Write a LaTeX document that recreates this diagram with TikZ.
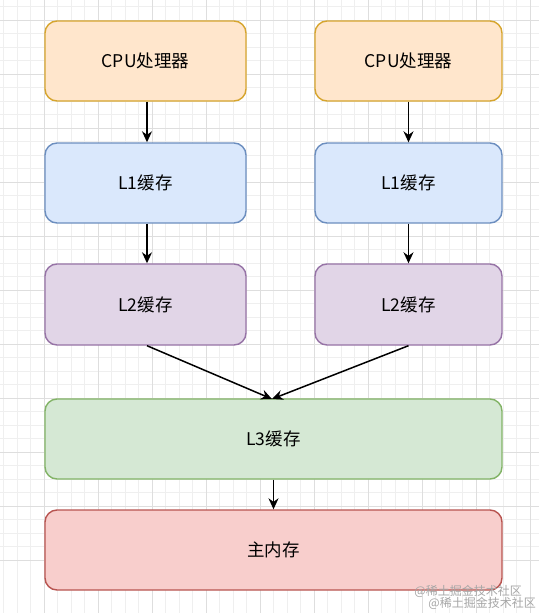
\documentclass[tikz,border=0pt]{standalone}
\usepackage{fontspec}
\setmainfont{Noto Sans CJK SC}
\usetikzlibrary{arrows.meta}
\definecolor{orF}{HTML}{FFE6CC}\definecolor{orD}{HTML}{D6A52E}
\definecolor{blF}{HTML}{DAE8FC}\definecolor{blD}{HTML}{6C8EBF}
\definecolor{puF}{HTML}{E1D5E7}\definecolor{puD}{HTML}{9673A6}
\definecolor{grF}{HTML}{D5E8D4}\definecolor{grD}{HTML}{82B366}
\definecolor{reF}{HTML}{F8CECC}\definecolor{reD}{HTML}{B85450}
\definecolor{gridminor}{HTML}{EFEFEF}\definecolor{gridmajor}{HTML}{DEDEDE}
\tikzset{
  box/.style={draw, line width=1.4pt, rounded corners=12pt, inner sep=0pt, font=\fontsize{17.5}{19}\selectfont},
  arr/.style={-{Stealth[length=11pt,width=10pt]}, line width=1.5pt},
  wm/.style={text=black!35, font=\fontsize{12}{13}\selectfont, inner sep=0pt, anchor=east}
}
\begin{document}
\begin{tikzpicture}[x=1pt,y=-1pt]
\useasboundingbox (0,0) rectangle (539,613);
\fill[white] (0,0) rectangle (539,613);
\foreach \i in {-3,...,40} {
  \pgfmathsetmacro\xx{44+13.5*\i}
  \pgfmathsetmacro\yy{20+13.5*\i}
  \draw[gridminor, line width=0.6pt] (\xx,0) -- (\xx,613);
  \draw[gridminor, line width=0.6pt] (0,\yy) -- (539,\yy);
}
\foreach \i in {-1,...,10} {
  \pgfmathsetmacro\xx{44+54*\i}
  \pgfmathsetmacro\yy{20+54*\i}
  \draw[gridmajor, line width=0.7pt] (\xx,0) -- (\xx,613);
  \draw[gridmajor, line width=0.7pt] (0,\yy) -- (539,\yy);
}
\node[box, fill=orF, draw=orD, minimum width=201pt, minimum height=80pt] (cpu1) at (145.5,61) {CPU处理器};
\node[box, fill=orF, draw=orD, minimum width=187pt, minimum height=80pt] (cpu2) at (408.5,61) {CPU处理器};
\node[box, fill=blF, draw=blD, minimum width=201pt, minimum height=80pt] (l11) at (145.5,183) {L1缓存};
\node[box, fill=blF, draw=blD, minimum width=187pt, minimum height=80pt] (l12) at (408.5,183) {L1缓存};
\node[box, fill=puF, draw=puD, minimum width=201pt, minimum height=81pt] (l21) at (145.5,304.5) {L2缓存};
\node[box, fill=puF, draw=puD, minimum width=187pt, minimum height=81pt] (l22) at (408.5,304.5) {L2缓存};
\node[box, fill=grF, draw=grD, minimum width=457pt, minimum height=80pt] (l3) at (273.5,439) {L3缓存};
\node[box, fill=reF, draw=reD, minimum width=457pt, minimum height=80pt] (mem) at (273.5,550) {主内存};
\coordinate (m3) at (272,399);
\draw[arr] (cpu1.south -| 147,0) -- (l11.north -| 147,0);
\draw[arr] (cpu2.south) -- (l12.north);
\draw[arr] (l11.south -| 147,0) -- (l21.north -| 147,0);
\draw[arr] (l12.south) -- (l22.north);
\draw[arr] (l21.south -| 147,0) -- (m3);
\draw[arr] (l22.south) -- (m3);
\draw[arr] (l3.south) -- (mem.north);
\node[wm] (wm1) at (522,591) {@稀土掘金技术社区};
\node[wm] (wm2) at (536,603) {@稀土掘金技术社区};
\end{tikzpicture}
\end{document}
